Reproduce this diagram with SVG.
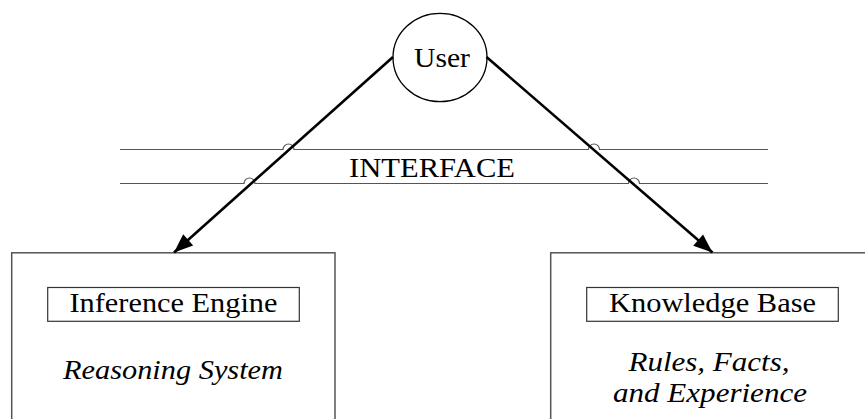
<svg xmlns="http://www.w3.org/2000/svg" width="865" height="419" viewBox="0 0 865 419">
<style>
text{font-family:"Liberation Serif",Tinos,"Nimbus Roman","Times New Roman","DejaVu Serif",serif;font-size:27px;fill:#000;text-anchor:middle}
.it{font-style:italic}
.box{fill:none;stroke:#555;stroke-width:1.5}
.inner{fill:none;stroke:#333;stroke-width:1.2}
.iface{fill:none;stroke:#555;stroke-width:1.2}
.arrow{fill:none;stroke:#000;stroke-width:2.6}
</style>
<defs>
<marker id="ah" markerUnits="userSpaceOnUse" markerWidth="24" markerHeight="20" viewBox="-20 -10 22 20" refX="0" refY="0" orient="auto">
<path d="M0,0 L-19,-7.5 L-19,7.5 Z" fill="#000"/>
</marker>
</defs>
<g id="interface">
<path class="iface" d="M120,149.5 H283 A5.5,5.5 0 0 1 294,149.5 H588.5 A5.5,5.5 0 0 1 599.5,149.5 H768"/>
<path class="iface" d="M120,183.5 H244 A5.5,5.5 0 0 1 255,183.5 H628.5 A5.5,5.5 0 0 1 639.5,183.5 H768"/>
<text x="432" y="177" textLength="166" lengthAdjust="spacingAndGlyphs">INTERFACE</text>
</g>
<g id="user">
<ellipse cx="440" cy="57.5" rx="47" ry="44.2" fill="#fff" stroke="#000" stroke-width="1.3"/>
<text x="442" y="67" textLength="56" lengthAdjust="spacingAndGlyphs">User</text>
</g>
<g id="inference-engine">
<rect class="box" x="11.7" y="252.8" width="323.3" height="180"/>
<rect class="inner" x="47.7" y="287.5" width="251.6" height="33.8"/>
<text x="173.5" y="312.3" textLength="208" lengthAdjust="spacingAndGlyphs">Inference Engine</text>
<text class="it" x="173" y="379.3" textLength="220" lengthAdjust="spacingAndGlyphs">Reasoning System</text>
</g>
<g id="knowledge-base">
<rect class="box" x="550.7" y="252.8" width="330" height="180"/>
<rect class="inner" x="586.7" y="287.5" width="251.6" height="33.8"/>
<text x="712.5" y="312.3" textLength="207" lengthAdjust="spacingAndGlyphs">Knowledge Base</text>
<text class="it" x="709" y="371" textLength="161" lengthAdjust="spacingAndGlyphs">Rules, Facts,</text>
<text class="it" x="710" y="402" textLength="194" lengthAdjust="spacingAndGlyphs">and Experience</text>
</g>
<g id="connectors">
<line class="arrow" x1="393" y1="57" x2="174" y2="252.5" marker-end="url(#ah)"/>
<line class="arrow" x1="486.5" y1="57" x2="712.5" y2="252.5" marker-end="url(#ah)"/>
</g>
</svg>
